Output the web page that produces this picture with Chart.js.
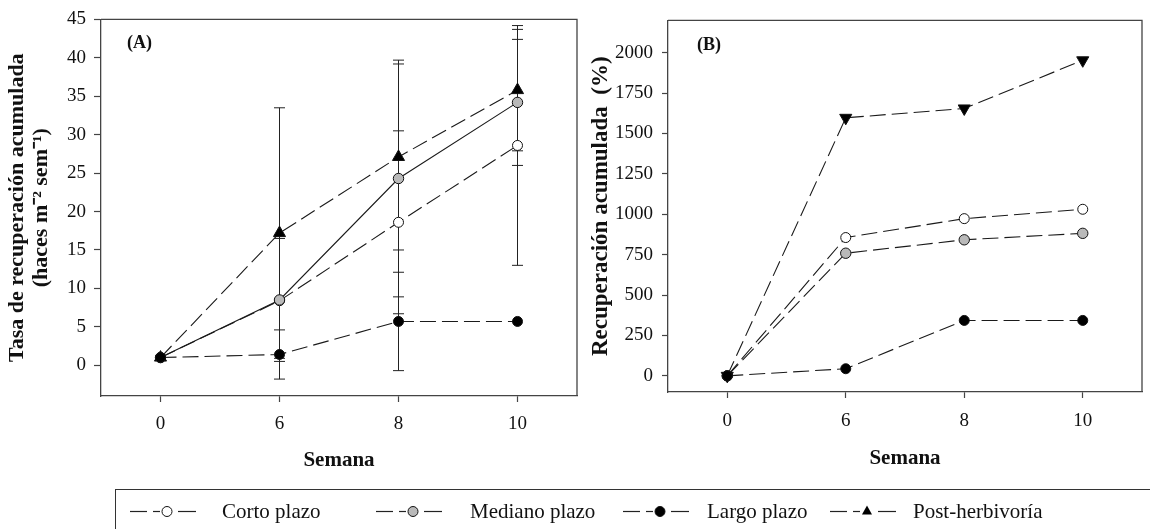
<!DOCTYPE html>
<html>
<head>
<meta charset="utf-8">
<script src="https://cdn.jsdelivr.net/npm/chart.js@4"></script>
<style>
  body { margin: 0; background: #fff; width: 1150px; height: 529px; overflow: hidden; position: relative; font-family: "Liberation Serif", serif; }
  #cA { position: absolute; left: 0; top: 0; }
  #cB { position: absolute; left: 585px; top: 0; }
  .legendBox { position: absolute; left: 115px; top: 489px; width: 1050px; height: 60px; border-top: 1.5px solid #333; border-left: 1.5px solid #333; }
  .lt { position: absolute; top: 499px; font-size: 21px; line-height: 24px; color: #111; white-space: nowrap; }
  #legSym { position: absolute; left: 0; top: 0; }
</style>
</head>
<body>
<canvas id="cA" width="585" height="480"></canvas>
<canvas id="cB" width="565" height="480"></canvas>
<div class="legendBox"></div>
<svg id="legSym" width="1150" height="529"></svg>
<script>
// --- DATA ---
const weeks = ['0', '6', '8', '10'];
const seriesNames = ['Corto plazo', 'Mediano plazo', 'Largo plazo', 'Post-herbivoría'];

// (A) tasa de recuperación acumulada
const cortoA = [1.0, 8.4, 18.6, 28.6];
const medianoA = [1.0, 8.5, 24.3, 34.2];
const largoA = [1.0, 1.4, 5.7, 5.7];
const postA = [1.0, 17.2, 27.1, 35.8];
// error bars (+/-)
const cortoErrA = [null, null, 11.9, 15.6];
const medianoErrA = [null, 8.0, 15.4, 8.2];
const largoErrA = [null, 3.2, 6.4, null];
const postErrA = [null, 16.3, 12.1, 7.9];
const yTicksA = [0, 5, 10, 15, 20, 25, 30, 35, 40, 45];

// (B) recuperación acumulada (%)
const cortoB = [0, 856, 973, 1031];
const medianoB = [0, 759, 842, 882];
const largoB = [0, 44, 343, 343];
const postB = [0, 1597, 1655, 1953];
const yTicksB = [0, 250, 500, 750, 1000, 1250, 1500, 1750, 2000];

const SERIF = '"Liberation Serif", "Times New Roman", serif';
const AXIS = '#444';
const LINE = '#1a1a1a';
const DASH = [16, 6];

// --- STYLES PER SERIES ---
function buildDatasets(values, errs, isB) {
  const looks = [
    { fill: '#ffffff', style: 'circle', dash: DASH, order: 3, rot: 0, r: 5 },
    { fill: '#b9b9b9', style: 'circle', dash: isB ? DASH : [], order: 2, rot: 0, r: 5.2 },
    { fill: '#000000', style: 'circle', dash: DASH, order: 0, rot: 0, r: 5 },
    { fill: '#000000', style: 'triangle', dash: DASH, order: 1, rot: isB ? 180 : 0, r: 7 }
  ];
  return values.map((v, i) => ({
    label: seriesNames[i],
    data: v,
    errors: errs ? errs[i] : null,
    borderColor: LINE,
    borderWidth: 1.1,
    borderDash: looks[i].dash,
    backgroundColor: looks[i].fill,
    pointBackgroundColor: looks[i].fill,
    pointBorderColor: '#111',
    pointBorderWidth: 1,
    pointStyle: looks[i].style,
    pointRotation: looks[i].rot,
    pointRadius: looks[i].r,
    order: looks[i].order,
    tension: 0,
    clip: false
  }));
}

// --- PLUGINS ---
const frame = {
  id: 'frame',
  afterDraw(chart) {
    const { ctx, chartArea: a } = chart;
    ctx.save();
    ctx.strokeStyle = AXIS;
    ctx.lineWidth = 1.3;
    ctx.beginPath();
    ctx.moveTo(a.left, a.top);
    ctx.lineTo(a.right, a.top);
    ctx.lineTo(a.right, a.bottom);
    ctx.stroke();
    ctx.restore();
  }
};

const errorBars = {
  id: 'errorBars',
  beforeDatasetsDraw(chart) {
    const { ctx } = chart;
    const y = chart.scales.y;
    ctx.save();
    ctx.strokeStyle = '#222';
    ctx.lineWidth = 1;
    chart.data.datasets.forEach((ds, di) => {
      if (!ds.errors) return;
      const meta = chart.getDatasetMeta(di);
      ds.errors.forEach((e, i) => {
        if (e == null) return;
        const x = meta.data[i].x;
        const hi = y.getPixelForValue(ds.data[i] + e);
        const lo = y.getPixelForValue(ds.data[i] - e);
        ctx.beginPath();
        ctx.moveTo(x, hi); ctx.lineTo(x, lo);
        ctx.moveTo(x - 5.5, hi); ctx.lineTo(x + 5.5, hi);
        ctx.moveTo(x - 5.5, lo); ctx.lineTo(x + 5.5, lo);
        ctx.stroke();
      });
    });
    ctx.restore();
  }
};

function panelLabel(text, dx, cy) {
  return {
    id: 'panelLabel',
    afterDraw(chart) {
      const { ctx, chartArea: a } = chart;
      ctx.save();
      ctx.font = 'bold 18px ' + SERIF;
      ctx.fillStyle = '#111';
      ctx.textBaseline = 'middle';
      ctx.fillText(text, a.left + dx, cy);
      ctx.restore();
    }
  };
}

// --- PANEL ---
function drawPanel(id, o) {
  return new Chart(document.getElementById(id), {
    type: 'line',
    data: { labels: weeks, datasets: o.datasets },
    options: {
      responsive: false,
      animation: false,
      layout: { padding: o.padding },
      plugins: { legend: { display: false }, tooltip: { enabled: false } },
      scales: {
        x: {
          type: 'category',
          offset: true,
          grid: { offset: false, drawOnChartArea: false, tickLength: 6, color: AXIS, tickWidth: 1.2 },
          border: { color: AXIS, width: 1.3 },
          ticks: { font: { family: SERIF, size: 19 }, color: '#111', padding: o.xTickPad },
          title: { display: true, text: 'Semana', font: { family: SERIF, size: 21, weight: 'bold' }, color: '#111', padding: { top: 0, bottom: o.xTitlePad } },
          afterFit: s => { s.height = o.xHeight; }
        },
        y: {
          min: o.yMin,
          max: o.yMax,
          afterBuildTicks: s => { s.ticks = o.yTicks.map(v => ({ value: v })); },
          grid: { drawOnChartArea: false, tickLength: o.tickLen, color: AXIS, tickWidth: 1.2 },
          border: { color: AXIS, width: 1.3 },
          ticks: { font: { family: SERIF, size: 19 }, color: '#111', padding: o.tickPad, callback: v => String(v) },
          title: { display: true, text: o.yTitle, font: { family: SERIF, size: o.yTitleSize, weight: 'bold', lineHeight: 1.1 }, color: '#111', padding: { top: o.yTitlePad, bottom: 0 } },
          afterFit: s => { s.width = o.yWidth; }
        }
      }
    },
    plugins: [errorBars, frame, panelLabel(o.label, o.labelDx, o.labelY)]
  });
}

drawPanel('cA', {
  datasets: buildDatasets([cortoA, medianoA, largoA, postA], [cortoErrA, medianoErrA, largoErrA, postErrA], false),
  padding: { top: 15, right: 6, left: 0, bottom: 0 },
  yMin: -4, yMax: 45, yTicks: yTicksA,
  yWidth: 101, xHeight: 84, tickLen: 7, tickPad: 8, xTickPad: 11,
  yTitle: ['Tasa de recuperación acumulada', '(haces m\u207B\u00B2 sem\u207B\u00B9)'], yTitleSize: 22, yTitlePad: 5,
  xTitlePad: 7,
  label: '(A)', labelDx: 26, labelY: 43
});

drawPanel('cB', {
  datasets: buildDatasets([cortoB, medianoB, largoB, postB], null, true),
  padding: { top: 12, right: 3, left: 0, bottom: 0 },
  yMin: -100, yMax: 2200, yTicks: yTicksB,
  yWidth: 83, xHeight: 88, tickLen: 6, tickPad: 9, xTickPad: 12,
  yTitle: 'Recuperación acumulada  (%)', yTitleSize: 23, yTitlePad: 3,
  xTitlePad: 9,
  label: '(B)', labelDx: 29, labelY: 45
});

// --- LEGEND ---
const legMarkerX = [167, 413, 660, 867];
const legTextX = [222, 470, 707, 913];
const legFill = ['#ffffff', '#b9b9b9', '#000000', '#000000'];
const legY = 511.5;
const svg = document.getElementById('legSym');
const NS = 'http://www.w3.org/2000/svg';
function el(tag, attrs) {
  const e = document.createElementNS(NS, tag);
  Object.entries(attrs).forEach(([k, v]) => e.setAttribute(k, v));
  svg.appendChild(e);
  return e;
}
seriesNames.forEach((name, i) => {
  const m = legMarkerX[i];
  [[m - 37, m - 20], [m - 14, m - 7], [m + 11, m + 29]].forEach(([a, b]) => {
    el('line', { x1: a, y1: legY, x2: b, y2: legY, stroke: '#222', 'stroke-width': 1.2 });
  });
  if (i === 3) {
    el('polygon', { points: `${m},${legY - 6} ${m + 5},${legY + 3} ${m - 5},${legY + 3}`, fill: '#000' });
  } else {
    el('circle', { cx: m, cy: legY, r: 5, fill: legFill[i], stroke: '#111', 'stroke-width': 1 });
  }
  const t = document.createElement('div');
  t.className = 'lt';
  t.style.left = legTextX[i] + 'px';
  t.textContent = name;
  document.body.appendChild(t);
});
</script>
</body>
</html>
